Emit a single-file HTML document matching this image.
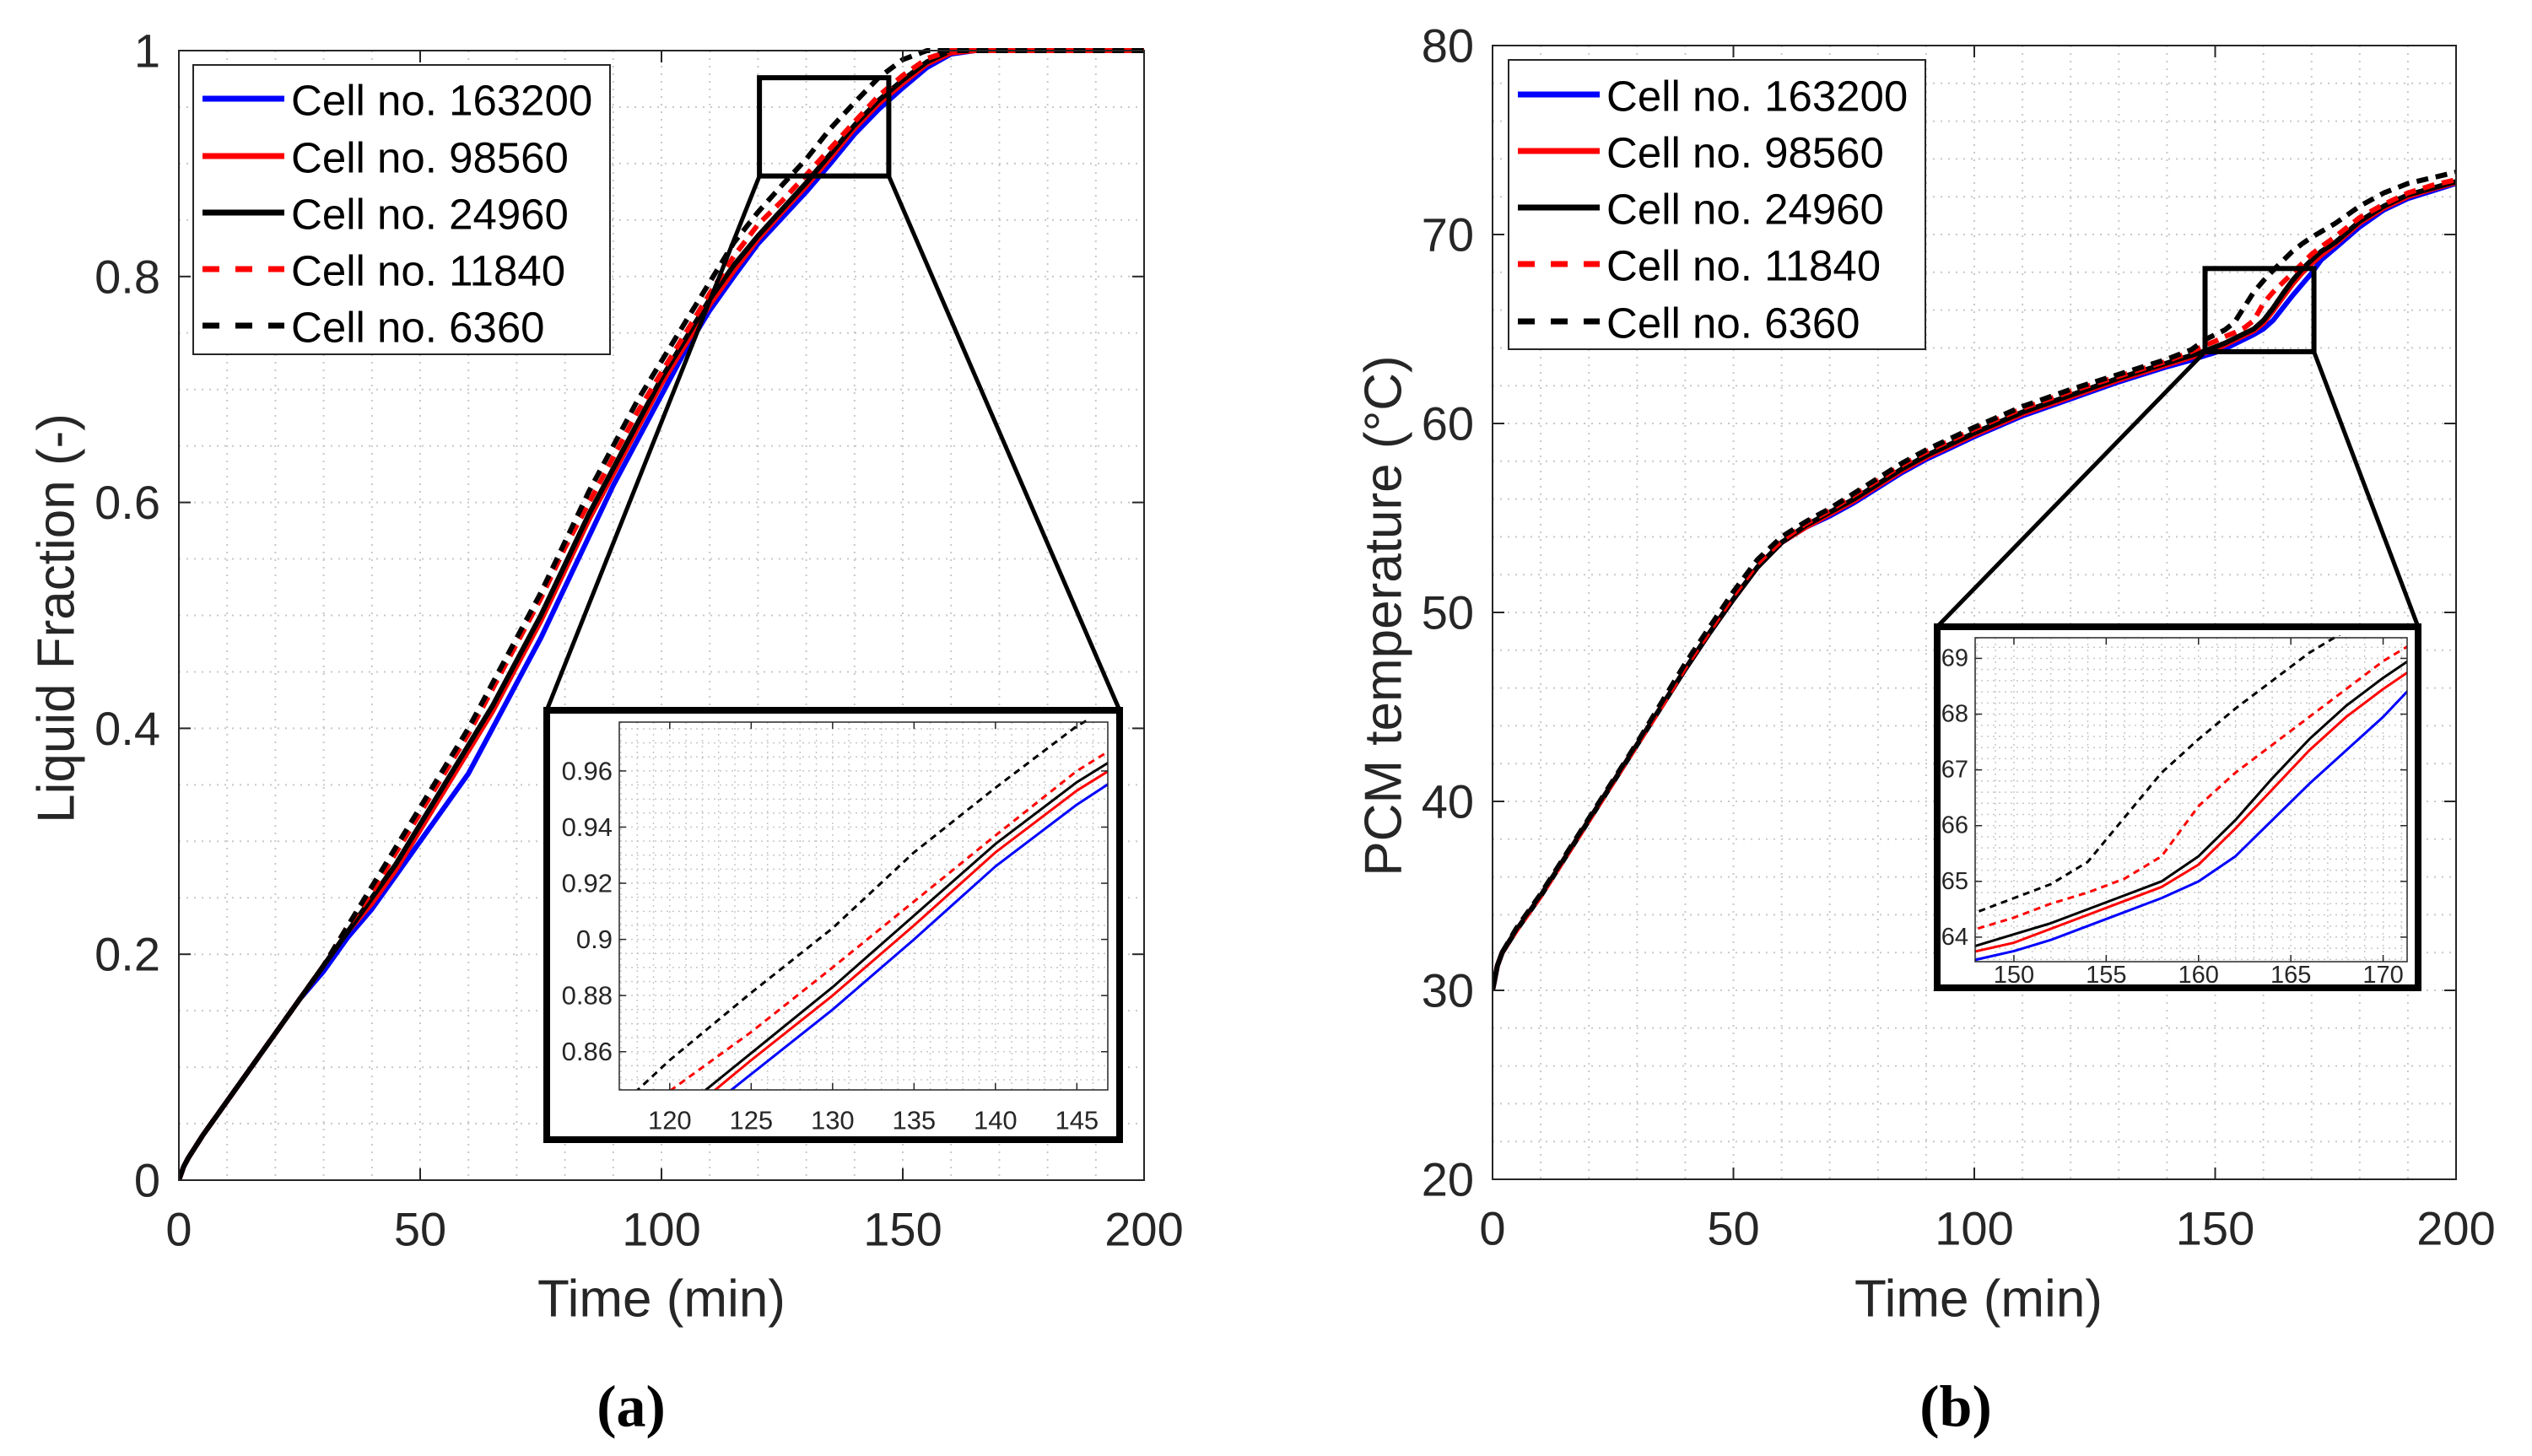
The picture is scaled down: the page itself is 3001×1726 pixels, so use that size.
<!DOCTYPE html>
<html><head><meta charset="utf-8">
<style>
html,body{margin:0;padding:0;background:#fff;width:3001px;height:1726px;overflow:hidden;}
svg{display:block;}
text{font-family:"Liberation Sans",Arial,sans-serif;fill:#262626;}
</style></head>
<body>
<svg id="fig" xmlns="http://www.w3.org/2000/svg" width="3001" height="1726" viewBox="0 0 3001 1726">
<rect x="0" y="0" width="3001" height="1726" fill="#fff"/>
</svg>
<script>
// ---------- data: liquid fraction (panel a) ----------
const timeA = [0,1,2,5,10,15,20,25,30,35,40,45,50,55,60,65,70,75,80,85,90,95,100,105,110,115,120,125,130,135,140,145,150,155,160,165,170,180,200];
const lfBlue  = [0,0.012,0.02,0.04,0.07,0.10,0.13,0.16,0.185,0.215,0.24,0.27,0.30,0.33,0.36,0.40,0.44,0.48,0.525,0.57,0.615,0.655,0.695,0.735,0.77,0.80,0.829,0.852,0.875,0.900,0.926,0.948,0.967,0.985,0.997,1,1,1,1];
const lfRed   = [0,0.012,0.02,0.04,0.07,0.10,0.13,0.16,0.19,0.22,0.245,0.275,0.31,0.345,0.38,0.415,0.455,0.495,0.54,0.585,0.625,0.665,0.705,0.74,0.775,0.805,0.833,0.857,0.880,0.905,0.931,0.953,0.971,0.988,0.998,1,1,1,1];
const lfBlack = [0,0.012,0.02,0.04,0.07,0.10,0.13,0.16,0.19,0.22,0.25,0.28,0.315,0.35,0.385,0.42,0.46,0.50,0.545,0.59,0.63,0.67,0.71,0.745,0.78,0.81,0.836,0.8595,0.883,0.9085,0.934,0.956,0.974,0.99,1,1,1,1,1];
const lfRedDash = [0,0.012,0.02,0.04,0.07,0.10,0.13,0.16,0.19,0.225,0.255,0.29,0.325,0.36,0.395,0.435,0.475,0.515,0.56,0.60,0.64,0.68,0.715,0.75,0.785,0.818,0.846,0.867,0.890,0.9135,0.937,0.96,0.978,0.993,1,1,1,1,1];
const lfBlackDash = [0,0.012,0.02,0.04,0.07,0.10,0.13,0.16,0.19,0.225,0.26,0.295,0.33,0.365,0.40,0.44,0.48,0.52,0.565,0.61,0.65,0.69,0.725,0.76,0.795,0.83,0.857,0.881,0.904,0.931,0.954,0.976,0.992,1,1,1,1,1,1];

// ---------- data: PCM temperature (panel b) ----------
const timeB = [0,1,2,5,10,15,20,25,30,35,40,45,50,55,60,65,70,75,80,85,90,95,100,110,120,130,140,145,148,150,152,154,156,158,160,162,164,166,168,170,172,175,180,185,190,195,200];
const tBlue  = [30,31.3,32,33.2,35,37,39,41,43,45,47,48.9,50.7,52.4,53.7,54.5,55.1,55.8,56.6,57.4,58.1,58.7,59.3,60.4,61.3,62.2,63.0,63.35,63.6,63.75,63.95,64.2,64.45,64.7,65.0,65.45,66.1,66.75,67.35,67.95,68.65,69.3,70.4,71.3,71.9,72.3,72.7];
const tRed   = [30,31.3,32,33.2,35,37,39,41,43,45,47,48.9,50.7,52.4,53.7,54.5,55.2,55.9,56.7,57.5,58.2,58.8,59.4,60.5,61.4,62.3,63.1,63.5,63.75,63.9,64.15,64.4,64.65,64.9,65.3,65.95,66.65,67.35,67.95,68.45,68.9,69.5,70.6,71.4,72.0,72.4,72.75];
const tBlack = [30,31.3,32,33.2,35,37,39,41,43,45,47,48.9,50.7,52.4,53.7,54.6,55.3,56.0,56.8,57.6,58.3,58.9,59.5,60.6,61.5,62.4,63.2,63.6,63.85,64.05,64.25,64.5,64.75,65.0,65.45,66.1,66.85,67.55,68.15,68.65,69.1,69.6,70.7,71.5,72.1,72.45,72.8];
const tRedDash = [30,31.3,32,33.2,35,37,39,41,43,45,47.1,49.0,50.9,52.6,53.8,54.7,55.4,56.2,57.0,57.8,58.5,59.1,59.7,60.8,61.7,62.5,63.3,63.8,64.15,64.35,64.6,64.8,65.05,65.45,66.35,66.95,67.45,67.95,68.45,68.95,69.35,69.9,70.9,71.6,72.2,72.6,72.9];
const tBlackDash = [30,31.3,32,33.3,35.1,37.1,39.1,41.1,43.1,45.2,47.3,49.2,51.1,52.8,54.0,54.8,55.5,56.3,57.1,57.9,58.6,59.2,59.8,60.9,61.8,62.6,63.4,63.9,64.45,64.7,64.95,65.35,66.15,66.95,67.55,68.1,68.6,69.1,69.5,69.85,70.15,70.6,71.5,72.2,72.7,73.0,73.3];

const ticksA_x = [0,50,100,150,200];
const ticksA_y = [0,0.2,0.4,0.6,0.8,1];
const tickLabelsA_y = ['0','0.2','0.4','0.6','0.8','1'];
const ticksB_y = [20,30,40,50,60,70,80];
const insetA_xt = [120,125,130,135,140,145];
const insetA_yt = [0.86,0.88,0.9,0.92,0.94,0.96];
const insetB_xt = [150,155,160,165,170];
const insetB_yt = [64,65,66,67,68,69];
const legendLabels = ['Cell no. 163200','Cell no. 98560','Cell no. 24960','Cell no. 11840','Cell no. 6360'];

const NS='http://www.w3.org/2000/svg';
const svg=document.getElementById('fig');
function el(tag,attrs,parent){const e=document.createElementNS(NS,tag);for(const k in attrs)e.setAttribute(k,attrs[k]);(parent||svg).appendChild(e);return e;}
function txt(s,attrs,parent){const e=el('text',attrs,parent);e.textContent=s;return e;}
function scale(d0,d1,r0,r1){return v=>r0+(v-d0)/(d1-d0)*(r1-r0);}

const styles=[
  {c:'#0000ff',dash:null,k:'blue'},
  {c:'#ff0000',dash:null,k:'red'},
  {c:'#000000',dash:null,k:'black'},
  {c:'#ff0000',dash:true,k:'red-dashed'},
  {c:'#000000',dash:true,k:'black-dashed'}];

let clipN=0;
function axes(o){
  const g=el('g',{});
  
  
  const sx=scale(o.xd[0],o.xd[1],o.x0,o.x1), sy=scale(o.yd[0],o.yd[1],o.y1,o.y0);
  el('rect',{x:o.x0,y:o.y0,width:o.x1-o.x0,height:o.y1-o.y0,fill:'#fff'},g);
  const grid=el('g',{stroke:'#c8c8c8','stroke-width':o.gw,'stroke-dasharray':o.gd},g);
  
  
  const eps=1e-9;
  for(let v=Math.ceil(o.xd[0]/o.mx-eps)*o.mx; v<o.xd[1]-eps; v+=o.mx){ if(v<=o.xd[0]+eps) continue; const X=sx(v); el('line',{x1:X,x2:X,y1:o.y0,y2:o.y1},grid);}
  for(let v=Math.ceil(o.yd[0]/o.my-eps)*o.my; v<o.yd[1]-eps; v+=o.my){ if(v<=o.yd[0]+eps) continue; const Y=sy(v); el('line',{x1:o.x0,x2:o.x1,y1:Y,y2:Y},grid);}
  const id='clip'+(clipN++);
  const cp=el('clipPath',{id:id},g); el('rect',{x:o.x0,y:o.y0-3,width:o.x1-o.x0,height:o.y1-o.y0+3},cp);
  const lines=el('g',{'clip-path':'url(#'+id+')'},g);
  o.series.forEach((s,i)=>{
    const st=styles[i];
    const d=o.xs.map((t,j)=>(j?'L':'M')+sx(t).toFixed(2)+','+sy(s[j]).toFixed(2)).join('');
    const p=el('path',{d:d,fill:'none',stroke:st.c,'stroke-width':o.lw,'stroke-linejoin':'round'},lines);
    if(st.dash)p.setAttribute('stroke-dasharray',o.dash);
    
    
  });
  const ax=el('g',{stroke:'#262626','stroke-width':o.bw,fill:'none'},g);
  el('rect',{x:o.x0,y:o.y0,width:o.x1-o.x0,height:o.y1-o.y0},ax);
  o.xt.forEach(v=>{const X=sx(v);el('line',{x1:X,x2:X,y1:o.y1,y2:o.y1-o.tl},ax);el('line',{x1:X,x2:X,y1:o.y0,y2:o.y0+o.tl},ax);
    const t=txt(String(v),{x:X,y:o.y1+o.xlo,'font-size':o.fs,'text-anchor':'middle','dominant-baseline':'central'},g);
    });
  o.yt.forEach((v,i)=>{const Y=sy(v);el('line',{x1:o.x0,x2:o.x0+o.tl,y1:Y,y2:Y},ax);el('line',{x1:o.x1,x2:o.x1-o.tl,y1:Y,y2:Y},ax);
    const t=txt(o.ytl?o.ytl[i]:String(v),{x:o.x0-o.ylo,y:Y,'font-size':o.fs,'text-anchor':'end','dominant-baseline':'central'},g);
    });
  return {sx,sy,g};
}

function legend(x,y,w,h,rows,name){
  const g=el('g',{});
  
  
  el('rect',{x:x,y:y,width:w,height:h,fill:'#fff',stroke:'#262626','stroke-width':2},g);
  rows.forEach((ry,i)=>{
    const st=styles[i];
    const l=el('line',{x1:x+11,x2:x+108,y1:ry,y2:ry,stroke:st.c,'stroke-width':7},g);
    if(st.dash)l.setAttribute('stroke-dasharray','20 19');
    const t=txt(legendLabels[i],{x:x+116,y:ry+2,'font-size':51,'dominant-baseline':'central',style:'fill:#000'},g);
    
    
  });
}

function inset(o){
  el('rect',{x:o.bx0,y:o.by0,width:o.bx1-o.bx0,height:o.by1-o.by0,fill:'#fff',stroke:'#000','stroke-width':8});
  return axes(o);
}

// ---------- Panel (a) ----------
const A={name:'liquid-fraction-axes',x0:212,x1:1356,y0:60,y1:1399,xd:[0,200],yd:[0,1],mx:10,my:0.05,gw:2,gd:'2 7',
  xs:timeA,series:[lfBlue,lfRed,lfBlack,lfRedDash,lfBlackDash],lw:6,dash:'14 9',bw:2,tl:14,xt:ticksA_x,yt:ticksA_y,ytl:tickLabelsA_y,fs:56,xlo:58,ylo:22};
const pa=axes(A);
legend(229,77,494,343,[117,185,252,319,386],'legend-a');
el('rect',{x:pa.sx(120.3),y:pa.sy(0.976),width:pa.sx(147.1)-pa.sx(120.3),height:pa.sy(0.889)-pa.sy(0.976),fill:'none',stroke:'#000','stroke-width':6});
el('line',{x1:pa.sx(120.3),y1:pa.sy(0.889),x2:648,y2:842,stroke:'#000','stroke-width':5});
el('line',{x1:pa.sx(147.1),y1:pa.sy(0.889),x2:1327,y2:842,stroke:'#000','stroke-width':5});
inset({name:'inset-a',bx0:648,by0:842,bx1:1327,by1:1351,x0:734,x1:1313,y0:856,y1:1292,xd:[116.9,146.9],yd:[0.8464,0.9774],mx:1,my:0.005,gw:1.5,gd:'2 5',
  xs:timeA,series:[lfBlue,lfRed,lfBlack,lfRedDash,lfBlackDash],lw:3,dash:'8 6',bw:1.5,tl:8,xt:insetA_xt,yt:insetA_yt,fs:31,xlo:36,ylo:8});
txt('Time (min)',{x:784,y:1540,'font-size':62,'text-anchor':'middle','dominant-baseline':'central'});
txt('Liquid Fraction (-)',{x:0,y:0,'font-size':62,'text-anchor':'middle','dominant-baseline':'central',transform:'translate(67,733) rotate(-90)'});
const la=txt('(a)',{x:748,y:1668,'font-size':70,'text-anchor':'middle','dominant-baseline':'central','font-weight':'bold',style:'font-family:"Liberation Serif",serif;fill:#000'});


// ---------- Panel (b) ----------
const B={name:'pcm-temperature-axes',x0:1769,x1:2911,y0:54,y1:1398,xd:[0,200],yd:[20,80],mx:10,my:2,gw:2,gd:'2 7',
  xs:timeB,series:[tBlue,tRed,tBlack,tRedDash,tBlackDash],lw:6,dash:'14 9',bw:2,tl:14,xt:ticksA_x,yt:ticksB_y,fs:56,xlo:58,ylo:22};
const pb=axes(B);
legend(1788,71,494,343,[112,179,246,313,381],'legend-b');
el('rect',{x:pb.sx(147.9),y:pb.sy(68.2),width:pb.sx(170.5)-pb.sx(147.9),height:pb.sy(63.8)-pb.sy(68.2),fill:'none',stroke:'#000','stroke-width':6});
el('line',{x1:pb.sx(147.9),y1:pb.sy(63.8),x2:2296,y2:743,stroke:'#000','stroke-width':5});
el('line',{x1:pb.sx(170.5),y1:pb.sy(63.8),x2:2866,y2:743,stroke:'#000','stroke-width':5});
inset({name:'inset-b',bx0:2296,by0:743,bx1:2866,by1:1171,x0:2341,x1:2853,y0:756,y1:1140,xd:[147.9,171.3],yd:[63.56,69.37],mx:1,my:0.2,gw:1.5,gd:'2 5',
  xs:timeB,series:[tBlue,tRed,tBlack,tRedDash,tBlackDash],lw:3,dash:'8 6',bw:1.5,tl:8,xt:insetB_xt,yt:insetB_yt,fs:29,xlo:16,ylo:8});
txt('Time (min)',{x:2345,y:1540,'font-size':62,'text-anchor':'middle','dominant-baseline':'central'});
txt('PCM temperature (°C)',{x:0,y:0,'font-size':62,'text-anchor':'middle','dominant-baseline':'central',transform:'translate(1640,730) rotate(-90)'});
const lb=txt('(b)',{x:2318,y:1668,'font-size':70,'text-anchor':'middle','dominant-baseline':'central','font-weight':'bold',style:'font-family:"Liberation Serif",serif;fill:#000'});

</script>
</body></html>
